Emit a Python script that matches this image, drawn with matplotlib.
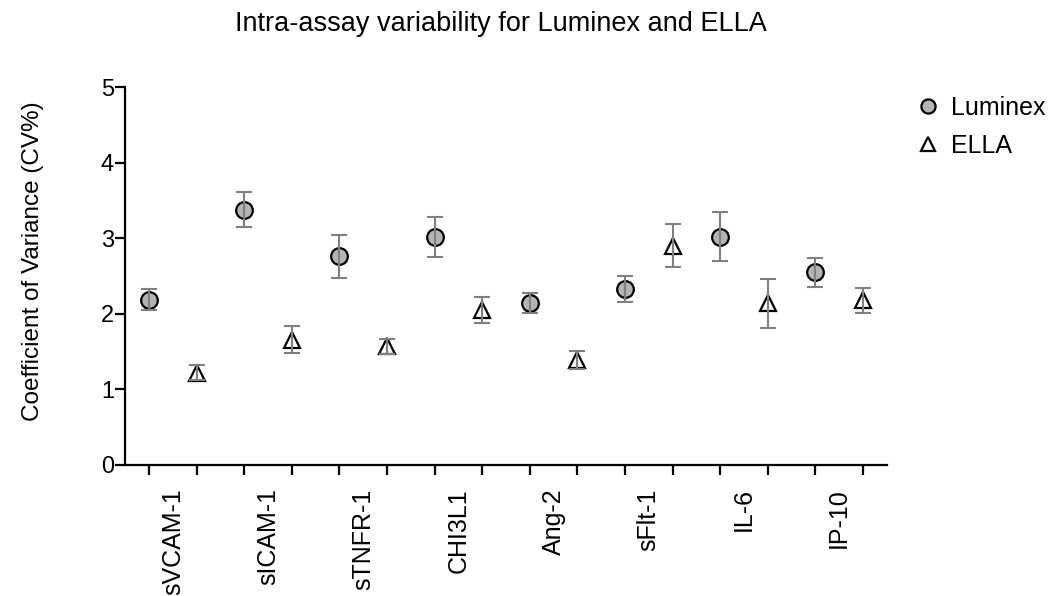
import matplotlib
matplotlib.use('Agg')
import matplotlib.pyplot as plt
import numpy as np

plt.rcParams['font.family'] = ['Liberation Sans', 'DejaVu Sans']

# analytes and intra-assay CV% (mean, error)
analytes = ['sVCAM-1', 'sICAM-1', 'sTNFR-1', 'CHI3L1', 'Ang-2', 'sFlt-1', 'IL-6', 'IP-10']
luminex_cv = [2.19, 3.38, 2.76, 3.02, 2.14, 2.33, 3.02, 2.55]
luminex_err = [0.14, 0.235, 0.285, 0.265, 0.135, 0.17, 0.325, 0.195]
ella_cv = [1.22, 1.66, 1.57, 2.05, 1.39, 2.90, 2.14, 2.18]
ella_err = [0.10, 0.18, 0.10, 0.175, 0.12, 0.285, 0.325, 0.165]

n = len(analytes)
x_lum = np.arange(n) * 2 + 1
x_ella = np.arange(n) * 2 + 2

fig = plt.figure(figsize=(10.61, 5.96), dpi=100)
ax = fig.add_axes([0.118, 0.22, 0.7177, 0.6335])

err_col = '#808080'
ax.plot(x_lum, luminex_cv, 'o', ms=12, mfc='#b4b4b4', mec='black', mew=1.6,
        ls='none', label='Luminex', zorder=2)
ax.plot(x_ella, ella_cv, '^', ms=11.5, mfc='white', mec='black', mew=1.6,
        ls='none', label='ELLA', zorder=2)
ax.errorbar(x_lum, luminex_cv, yerr=luminex_err, fmt='none', ecolor=err_col,
            elinewidth=1.5, capsize=6, capthick=1.5, zorder=3)
ax.errorbar(x_ella, ella_cv, yerr=ella_err, fmt='none', ecolor=err_col,
            elinewidth=1.5, capsize=6, capthick=1.5, zorder=3)

ax.set_xlim(0.5, 2 * n + 0.5)
ax.set_ylim(0, 5)
ax.set_yticks([0, 1, 2, 3, 4, 5])
ax.set_xticks(np.arange(1, 2 * n + 1))
ax.set_xticklabels([])
ax.set_xticks(x_lum + 0.5, minor=True)
ax.set_xticklabels(analytes, minor=True, rotation=90, fontsize=18)
ax.tick_params(axis='x', which='minor', length=0, pad=17)
ax.tick_params(axis='both', which='major', length=7, width=1.6, labelsize=17,
               direction='out')
ax.tick_params(axis='y', which='major', pad=1)

for s in ['top', 'right']:
    ax.spines[s].set_visible(False)
for s in ['left', 'bottom']:
    ax.spines[s].set_linewidth(1.6)

ax.set_ylabel('Coefficient of Variance (CV%)', fontsize=17.5)
ax.yaxis.set_label_coords(-0.107, 0.54)
fig.suptitle('Intra-assay variability for Luminex and ELLA', fontsize=19.5,
             x=0.472, y=0.982)

leg = ax.legend(loc='upper left', bbox_to_anchor=(0.849, 0.86),
                bbox_transform=fig.transFigure, frameon=False, borderpad=0,
                fontsize=18, handletextpad=0.3, handlelength=1.2,
                labelspacing=0.55, markerscale=0.85)

plt.savefig('out.png', dpi=100)
